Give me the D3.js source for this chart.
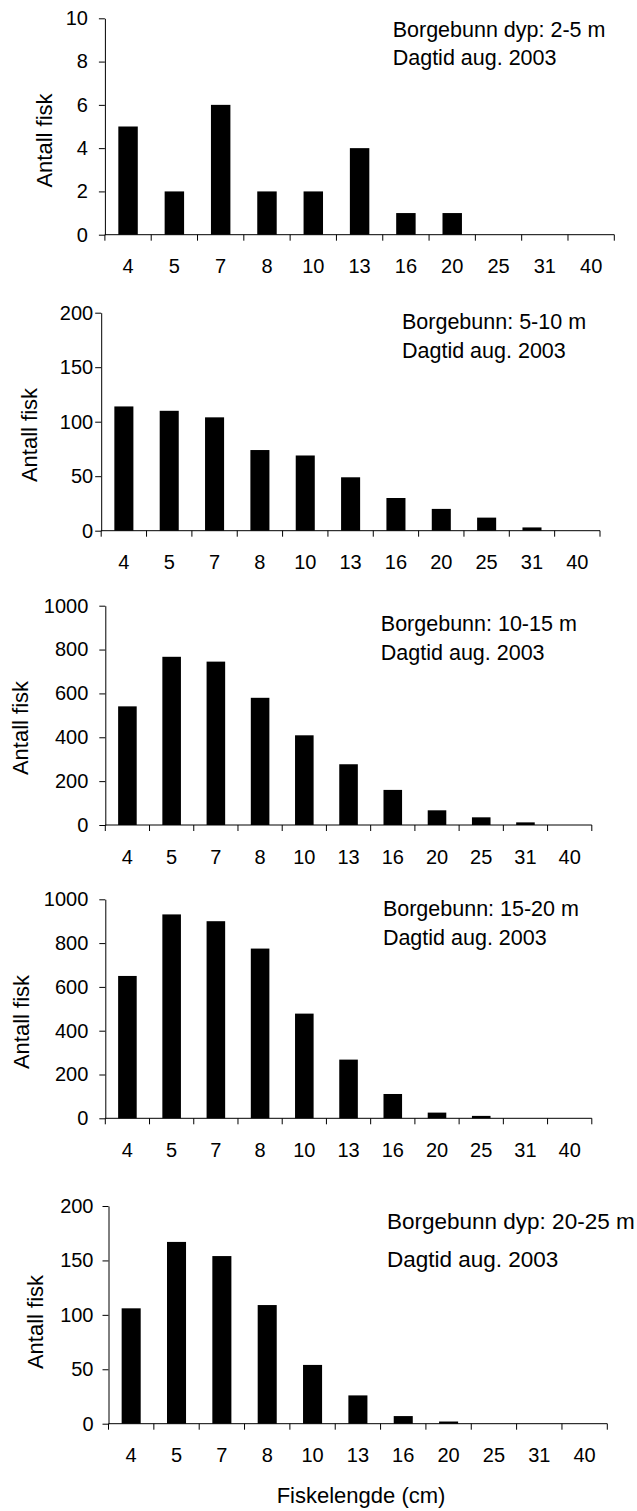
<!DOCTYPE html>
<html>
<head>
<meta charset="utf-8">
<script src="https://cdn.jsdelivr.net/npm/d3@7"></script>
<style>
  body { margin: 0; background: #fff; }
  svg text { font-family: "Liberation Sans", Arial, Helvetica, sans-serif; fill: #000; }
</style>
</head>
<body>
<svg id="chart" width="637" height="1511"></svg>
<script>
// Length classes (cm) shared by all depth panels
const lengthClasses = ["4", "5", "7", "8", "10", "13", "16", "20", "25", "31", "40"];

// Fish counts per length class, one series per depth zone
const counts2to5   = [5, 2, 6, 2, 2, 4, 1, 1, 0, 0, 0];
const counts5to10  = [114, 110, 104, 74, 69, 49, 30, 20, 12, 3, 0];
const counts10to15 = [541, 767, 745, 580, 409, 277, 160, 67, 35, 12, 0];
const counts15to20 = [650, 931, 900, 775, 478, 268, 111, 26, 11, 0, 0];
const counts20to25 = [106, 167, 154, 109, 54, 26, 7, 2, 0, 0, 0];

// Y tick values per panel
const yTicks2to5   = [0, 2, 4, 6, 8, 10];
const yTicks5to10  = [0, 50, 100, 150, 200];
const yTicks10to15 = [0, 200, 400, 600, 800, 1000];
const yTicks15to20 = [0, 200, 400, 600, 800, 1000];
const yTicks20to25 = [0, 50, 100, 150, 200];

// Panel notes
const notes2to5   = ["Borgebunn dyp: 2-5 m", "Dagtid aug. 2003"];
const notes5to10  = ["Borgebunn: 5-10 m", "Dagtid aug. 2003"];
const notes10to15 = ["Borgebunn: 10-15 m", "Dagtid aug. 2003"];
const notes15to20 = ["Borgebunn: 15-20 m", "Dagtid aug. 2003"];
const notes20to25 = ["Borgebunn dyp: 20-25 m", "Dagtid aug. 2003"];

const yAxisTitle = "Antall fisk";
const xAxisTitle = "Fiskelengde (cm)";

// Frame of each panel on the page
const frames = [
  { left: 104.9, right: 614.3, top: 18.3,   bottom: 234.7,  pad: 11, yTitleX: 52,   yTitleY: 140.5, noteX: 392.7, noteY: [36.7, 65],       noteSize: 21.5 },
  { left: 101.2, right: 600,   top: 312.7,  bottom: 530.7,  pad: 2,  yTitleX: 36.7, yTitleY: 435,   noteX: 402,   noteY: [329.3, 358.3],   noteSize: 21.5 },
  { left: 105.3, right: 591.8, top: 605.7,  bottom: 825,    pad: 11, yTitleX: 27.8, yTitleY: 728,   noteX: 380.8, noteY: [630.7, 660],     noteSize: 21.5 },
  { left: 105.3, right: 591.8, top: 899.3,  bottom: 1118.3, pad: 11, yTitleX: 29.4, yTitleY: 1022,  noteX: 382.9, noteY: [916, 945],       noteSize: 21.5 },
  { left: 108.5, right: 607.3, top: 1206,   bottom: 1423.7, pad: 9,  yTitleX: 42.9, yTitleY: 1322,  noteX: 387,   noteY: [1229.3, 1266.7], noteSize: 22.5 }
];

const panels = [
  { values: counts2to5,   ticks: yTicks2to5,   notes: notes2to5 },
  { values: counts5to10,  ticks: yTicks5to10,  notes: notes5to10 },
  { values: counts10to15, ticks: yTicks10to15, notes: notes10to15 },
  { values: counts15to20, ticks: yTicks15to20, notes: notes15to20 },
  { values: counts20to25, ticks: yTicks20to25, notes: notes20to25 }
];

const svg = d3.select("#chart");

panels.forEach((p, i) => {
  const f = frames[i];
  const g = svg.append("g");

  const x = d3.scaleBand()
    .domain(lengthClasses)
    .range([f.left, f.right])
    .paddingInner(0.58)
    .paddingOuter(0.29);

  const y = d3.scaleLinear()
    .domain([0, d3.max(p.ticks)])
    .range([f.bottom, f.top]);

  // bars
  g.append("g")
    .selectAll("rect")
    .data(lengthClasses.map((c, k) => ({ c, v: p.values[k] })).filter(d => d.v > 0))
    .join("rect")
    .attr("x", d => x(d.c))
    .attr("width", x.bandwidth())
    .attr("y", d => y(d.v))
    .attr("height", d => y(0) - y(d.v))
    .attr("fill", "#000");

  // y axis
  const ya = g.append("g")
    .attr("transform", `translate(${f.left},0)`)
    .call(d3.axisLeft(y)
      .tickValues(p.ticks)
      .tickFormat(d3.format("d"))
      .tickSize(6)
      .tickSizeOuter(0)
      .tickPadding(f.pad));
  ya.attr("font-size", 20).attr("font-family", null);
  ya.selectAll("text").attr("fill", "#000");
  ya.selectAll("line, path").attr("stroke", "#000");

  // x axis line with ticks at category boundaries
  const gap = (x.step() - x.bandwidth()) / 2;
  const bounds = lengthClasses.map(c => x(c) - gap).concat([f.right]);
  g.append("line")
    .attr("x1", f.left).attr("x2", f.right)
    .attr("y1", y(0)).attr("y2", y(0))
    .attr("stroke", "#000");
  g.append("g")
    .selectAll("line")
    .data(bounds)
    .join("line")
    .attr("x1", d => d).attr("x2", d => d)
    .attr("y1", y(0)).attr("y2", y(0) + 6)
    .attr("stroke", "#000");

  // x tick labels centred in each class
  g.append("g")
    .selectAll("text")
    .data(lengthClasses)
    .join("text")
    .attr("x", d => x(d) + x.bandwidth() / 2)
    .attr("y", y(0) + 38.5)
    .attr("text-anchor", "middle")
    .attr("font-size", 20)
    .text(d => d);

  // y axis title
  g.append("text")
    .attr("transform", `translate(${f.yTitleX},${f.yTitleY}) rotate(-90)`)
    .attr("text-anchor", "middle")
    .attr("font-size", 22)
    .text(yAxisTitle);

  // panel notes
  g.append("g")
    .selectAll("text")
    .data(p.notes)
    .join("text")
    .attr("x", f.noteX)
    .attr("y", (d, k) => f.noteY[k])
    .attr("font-size", f.noteSize)
    .text(d => d);
});

// shared x axis title
svg.append("text")
  .attr("x", 361)
  .attr("y", 1503)
  .attr("text-anchor", "middle")
  .attr("font-size", 22)
  .text(xAxisTitle);
</script>
</body>
</html>
